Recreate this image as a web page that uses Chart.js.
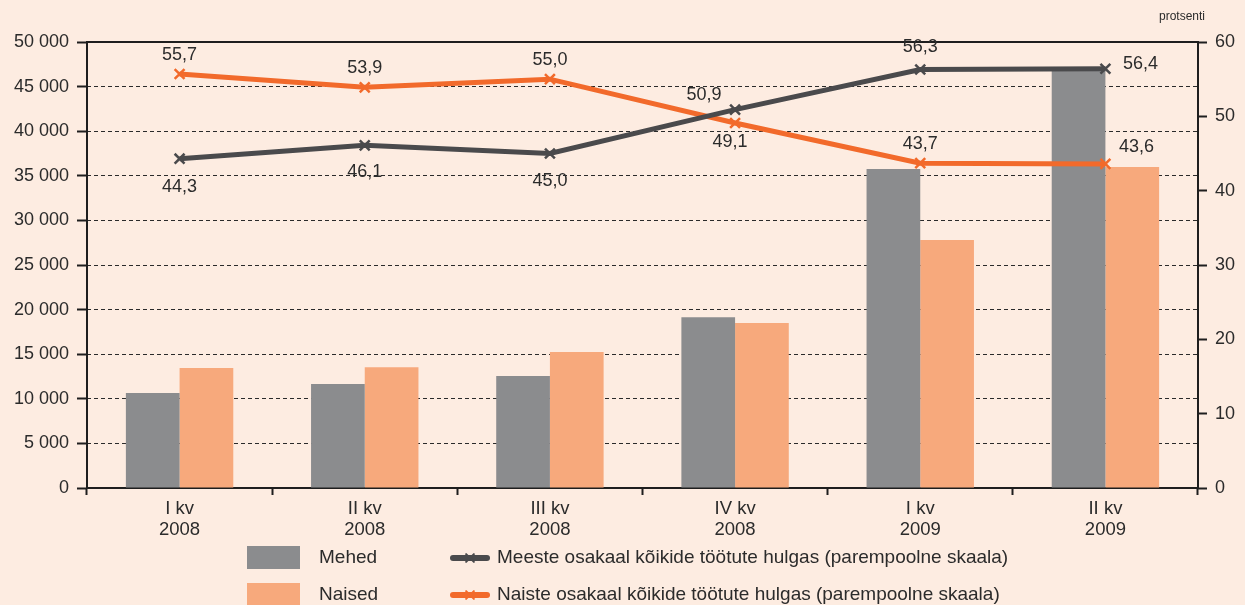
<!DOCTYPE html>
<html>
<head>
<meta charset="utf-8">
<script src="https://cdn.jsdelivr.net/npm/chart.js@4.4.1/dist/chart.umd.min.js"></script>
<style>
  html, body { margin: 0; padding: 0; background: #fdece1; }
  #wrap { width: 1245px; height: 605px; position: relative; }
</style>
</head>
<body>
<div id="wrap"><canvas id="chart" width="1245" height="605"></canvas></div>
<script>
// Andmed
const kvartalid = [['I kv', '2008'], ['II kv', '2008'], ['III kv', '2008'], ['IV kv', '2008'], ['I kv', '2009'], ['II kv', '2009']];
const mehed = [10650, 11650, 12550, 19150, 35750, 47000];
const naised = [13450, 13550, 15250, 18500, 27800, 36000];
const meesteOsakaal = [44.3, 46.1, 45.0, 50.9, 56.3, 56.4];
const naisteOsakaal = [55.7, 53.9, 55.0, 49.1, 43.7, 43.6];
const vasakTicks = [0, 5000, 10000, 15000, 20000, 25000, 30000, 35000, 40000, 45000, 50000];
const paremTicks = [0, 10, 20, 30, 40, 50, 60];

const FONT = 'Arial, "Liberation Sans", Helvetica, sans-serif';
const TEXT = '#2b2b2b';
const HALL = '#8b8c8e';
const LOHE = '#f7a97c';
const TUMEJOON = '#4a4a4c';
const ORANZ = '#f26a2b';

// Silditekstide nihked punkti suhtes (dx, dy)
const meesteSildid = [[0, 28], [0, 27], [0, 28], [-31, -15], [0, -22], [35, -5]];
const naisteSildid = [[0, -19], [0, -19], [0, -19], [-5, 19], [0, -19], [31, -17]];

const fmtTuhat = v => String(v).replace(/\B(?=(\d{3})+(?!\d))/g, ' ');

const taust = {
    id: 'taust',
    beforeDraw(chart) {
        const { ctx, width, height } = chart;
        ctx.save();
        ctx.fillStyle = '#fdece1';
        ctx.fillRect(0, 0, width, height);
        ctx.restore();
    }
};

// Raam (vasak, ülemine, parem joon) + "protsenti"
const raam = {
    id: 'raam',
    afterDatasetsDraw(chart) {
        const { ctx, chartArea: a } = chart;
        ctx.save();
        ctx.strokeStyle = '#1e1e1e';
        ctx.lineWidth = 2;
        ctx.beginPath();
        ctx.moveTo(a.left, a.bottom);
        ctx.lineTo(a.left, a.top);
        ctx.lineTo(a.right, a.top);
        ctx.lineTo(a.right, a.bottom);
        ctx.stroke();
        ctx.font = '12px ' + FONT;
        ctx.fillStyle = TEXT;
        ctx.textAlign = 'right';
        ctx.textBaseline = 'middle';
        ctx.fillText('protsenti', a.right + 7, 17);
        ctx.restore();
    }
};

// Väärtuste sildid joontel
const sildid = {
    id: 'sildid',
    afterDatasetsDraw(chart) {
        const { ctx } = chart;
        const nihked = { 0: meesteSildid, 1: naisteSildid };
        ctx.save();
        ctx.font = '18px ' + FONT;
        ctx.fillStyle = TEXT;
        ctx.textAlign = 'center';
        ctx.textBaseline = 'middle';
        [0, 1].forEach(di => {
            const meta = chart.getDatasetMeta(di);
            const data = chart.data.datasets[di].data;
            meta.data.forEach((pt, i) => {
                const [dx, dy] = nihked[di][i];
                ctx.fillText(data[i].toFixed(1).replace('.', ','), pt.x + dx, pt.y + dy);
            });
        });
        ctx.restore();
    }
};

// Legend kahes veerus
const legend = {
    id: 'legendKast',
    afterDraw(chart) {
        const { ctx } = chart;
        const ds = chart.data.datasets;
        ctx.save();
        ctx.font = '19px ' + FONT;
        ctx.fillStyle = TEXT;
        ctx.textBaseline = 'middle';
        const read = [558, 595];
        // tulbad
        [2, 3].forEach((di, r) => {
            ctx.fillStyle = ds[di].backgroundColor;
            ctx.fillRect(247, read[r] - 12, 53, 23);
            ctx.fillStyle = TEXT;
            ctx.fillText(ds[di].label, 319, read[r]);
        });
        // jooned
        [0, 1].forEach((di, r) => {
            const y = read[r];
            ctx.strokeStyle = ds[di].borderColor;
            ctx.lineWidth = 6;
            ctx.lineCap = 'round';
            ctx.beginPath();
            ctx.moveTo(453, y);
            ctx.lineTo(487, y);
            ctx.stroke();
            ctx.lineWidth = 2;
            Chart.helpers.drawPoint(ctx, { pointStyle: 'crossRot', radius: 5.5, borderWidth: 2 }, 470, y);
            ctx.fillStyle = TEXT;
            ctx.fillText(ds[di].label, 497, y);
        });
        ctx.restore();
    }
};

new Chart(document.getElementById('chart'), {
    type: 'bar',
    data: {
        labels: kvartalid,
        datasets: [
            {
                type: 'line', label: 'Meeste osakaal kõikide töötute hulgas (parempoolne skaala)',
                data: meesteOsakaal, yAxisID: 'y1', order: 0,
                borderColor: TUMEJOON, backgroundColor: TUMEJOON, borderWidth: 5,
                pointStyle: 'crossRot', pointRadius: 7, pointBorderWidth: 2.5,
                pointBorderColor: TUMEJOON, tension: 0
            },
            {
                type: 'line', label: 'Naiste osakaal kõikide töötute hulgas (parempoolne skaala)',
                data: naisteOsakaal, yAxisID: 'y1', order: 0,
                borderColor: ORANZ, backgroundColor: ORANZ, borderWidth: 5,
                pointStyle: 'crossRot', pointRadius: 7, pointBorderWidth: 2.5,
                pointBorderColor: ORANZ, tension: 0
            },
            {
                label: 'Mehed', data: mehed, yAxisID: 'y', order: 1,
                backgroundColor: HALL, categoryPercentage: 0.58, barPercentage: 1
            },
            {
                label: 'Naised', data: naised, yAxisID: 'y', order: 1,
                backgroundColor: LOHE, categoryPercentage: 0.58, barPercentage: 1
            }
        ]
    },
    options: {
        responsive: false,
        devicePixelRatio: 1,
        animation: false,
        layout: { padding: { top: 42, left: 0, right: 0, bottom: 0 } },
        plugins: { legend: { display: false }, tooltip: { enabled: false } },
        scales: {
            x: {
                offset: true,
                grid: { display: true, offset: true, drawOnChartArea: false, tickLength: 7, tickColor: '#1e1e1e', tickWidth: 2 },
                border: { display: true, color: '#1e1e1e', width: 2 },
                ticks: { color: TEXT, font: { family: FONT, size: 18.5, lineHeight: 1.15 }, padding: 3, maxRotation: 0 },
                afterFit: s => { s.height = 117; }
            },
            y: {
                position: 'left', min: 0, max: 50000,
                afterBuildTicks: s => { s.ticks = vasakTicks.map(v => ({ value: v })); },
                grid: {
                    color: c => (c.tick && (c.tick.value === 0 || c.tick.value === 50000)) ? 'rgba(0,0,0,0)' : '#2a2a2a',
                    lineWidth: 1, tickLength: 10, tickColor: '#1e1e1e', tickWidth: 2
                },
                border: { display: false, dash: [4, 3] },
                ticks: { color: TEXT, font: { family: FONT, size: 18 }, padding: 8, callback: v => fmtTuhat(v) },
                afterFit: s => { s.width = 87; }
            },
            y1: {
                position: 'right', min: 0, max: 60,
                afterBuildTicks: s => { s.ticks = paremTicks.map(v => ({ value: v })); },
                grid: { drawOnChartArea: false, tickLength: 9, tickColor: '#1e1e1e', tickWidth: 2 },
                border: { display: false },
                ticks: { color: TEXT, font: { family: FONT, size: 18 }, padding: 8 },
                afterFit: s => { s.width = 47; }
            }
        }
    },
    plugins: [taust, raam, sildid, legend]
});
</script>
</body>
</html>
